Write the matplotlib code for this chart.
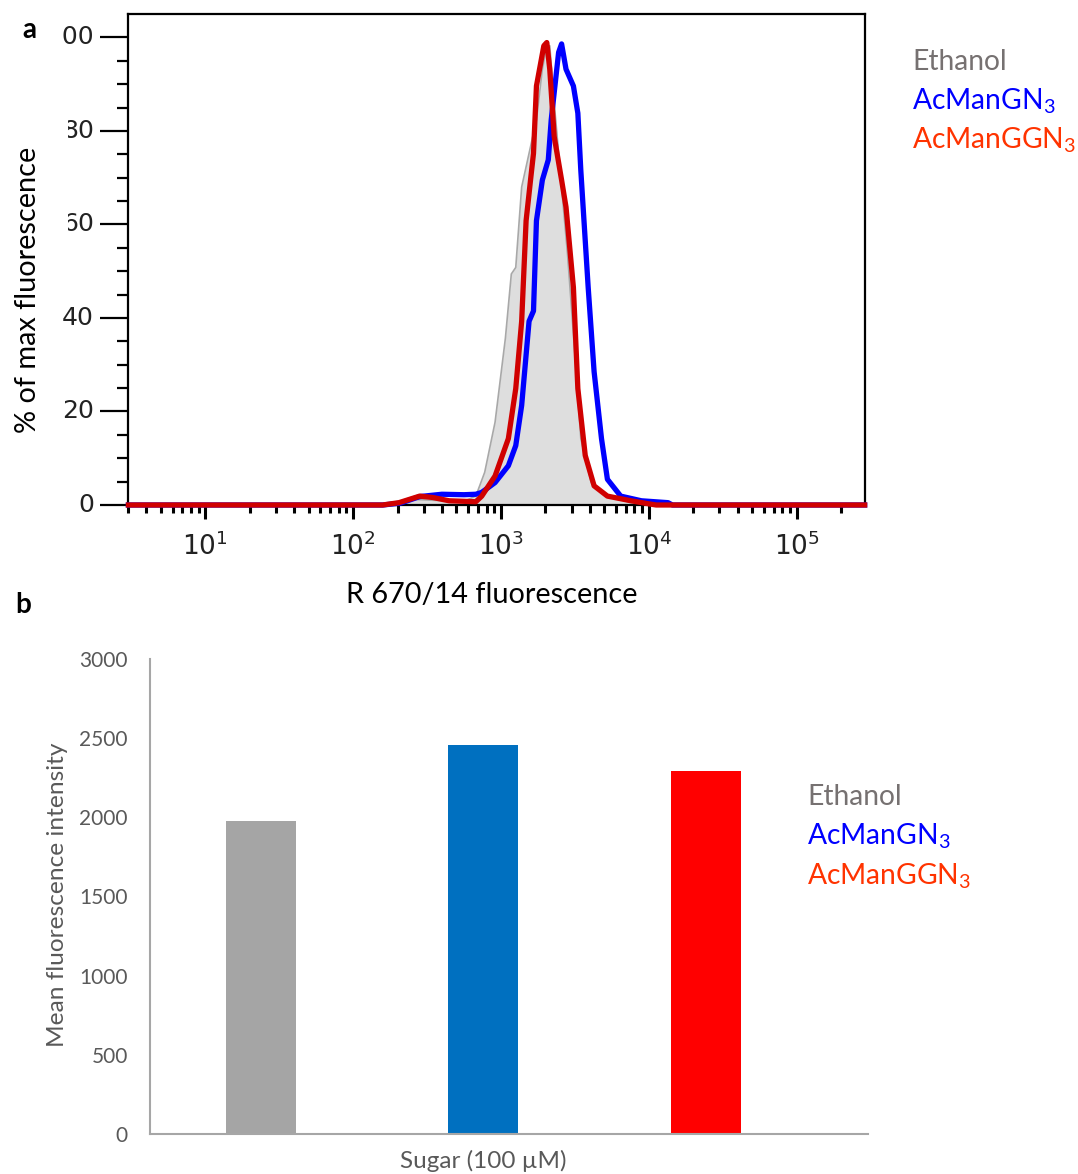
import numpy as np
import matplotlib
matplotlib.use('Agg')
import matplotlib.pyplot as plt
from matplotlib.ticker import FixedLocator, NullFormatter
from matplotlib.transforms import Bbox, TransformedBbox, blended_transform_factory

# ---- panel a: flow histograms (log10 fluorescence, % of max) ----
eth_logx = [0.48, 2.20, 2.40, 2.55, 2.75, 2.83, 2.89, 2.96, 3.03, 3.07, 3.10, 3.14, 3.19,
            3.24, 3.28, 3.31, 3.33, 3.36, 3.41, 3.45, 3.50, 3.54, 3.61, 3.72, 3.88, 4.0, 5.46]
eth_pct = [0, 0, 1.2, 1.0, 0.8, 1.9, 7.0, 17.7, 35.7, 49.4, 50.8, 68.0, 75.2,
           82.4, 93.2, 98.2, 98.2, 86.0, 68.0, 53.7, 32.2, 14.2, 4.8, 1.9, 0.5, 0, 0]

gn3_logx = [0.48, 2.20, 2.32, 2.45, 2.60, 2.75, 2.83, 2.87, 2.96, 3.05, 3.10, 3.14, 3.19,
            3.22, 3.24, 3.28, 3.32, 3.34, 3.39, 3.41, 3.44, 3.49, 3.52, 3.54, 3.59,
            3.63, 3.68, 3.72, 3.81, 3.95, 4.13, 4.16, 5.46]
gn3_pct = [0, 0, 0.4, 1.8, 2.3, 2.2, 2.3, 2.7, 4.8, 8.4, 12.7, 21.3, 39.3,
           41.5, 60.8, 69.5, 73.8, 82.4, 96.8, 98.6, 93.2, 89.6, 83.8, 71.6, 46.5,
           28.5, 14.2, 5.5, 1.9, 0.9, 0.5, 0, 0]

ggn3_logx = [0.48, 2.20, 2.31, 2.45, 2.54, 2.65, 2.83, 2.87, 2.96, 3.05, 3.10, 3.14, 3.17,
             3.20, 3.22, 3.24, 3.29, 3.31, 3.33, 3.36, 3.41, 3.44, 3.49, 3.52, 3.57,
             3.63, 3.72, 3.88, 3.99, 4.05, 5.46]
ggn3_pct = [0, 0, 0.5, 1.9, 1.6, 0.9, 0.7, 1.9, 6.2, 14.2, 24.9, 39.3, 60.8,
            69.5, 75.2, 89.6, 98.2, 98.9, 93.2, 78.8, 69.5, 63.7, 46.5, 24.9, 10.6,
            4.1, 1.9, 0.9, 0.3, 0, 0]

legend_names = ['Ethanol', r'AcManGN$_\mathrm{3}$', r'AcManGGN$_\mathrm{3}$']
legend_colors = ['#767171', '#0000FF', '#FF3300']

# ---- panel b: mean fluorescence intensity ----
bar_names = ['Ethanol', 'AcManGN3', 'AcManGGN3']
bar_values = [1977, 2457, 2293]
bar_colors = ['#A5A5A5', '#0070C0', '#FF0000']

yticks_a = [0, 20, 40, 60, 80, 100]
yticks_b = [0, 500, 1000, 1500, 2000, 2500, 3000]

plt.rcParams['font.family'] = ['Lato', 'DejaVu Sans']
plt.rcParams['mathtext.fontset'] = 'custom'
plt.rcParams['mathtext.rm'] = 'Lato'
plt.rcParams['mathtext.it'] = 'Lato:italic'
plt.rcParams['mathtext.bf'] = 'Lato:bold'
plt.rcParams['mathtext.sf'] = 'DejaVu Sans'

W, H = 1078, 1174
fig = plt.figure(figsize=(W / 100, H / 100), dpi=100)

# ============ panel a ============
ax = fig.add_axes([128 / W, 1 - 505 / H, 737 / W, 491 / H])
ax.set_xscale('log')
ax.set_xlim(3, 2.9e5)
ax.set_ylim(0, 105)

ax.fill_between(10 ** np.array(eth_logx), eth_pct, color='#DEDEDE', lw=0, zorder=1)
ax.plot(10 ** np.array(eth_logx), eth_pct, color='#A8A8A8', lw=1.2, zorder=2)
ax.plot(10 ** np.array(gn3_logx), gn3_pct, color='#0000FF', lw=3.8, zorder=3,
        clip_on=False, solid_joinstyle='round')
ax.plot(10 ** np.array(ggn3_logx), ggn3_pct, color='#D00000', lw=3.8, zorder=4,
        clip_on=False, solid_joinstyle='round')

for s in ax.spines.values():
    s.set_linewidth(1.6)
    s.set_color('black')

majors = [1e1, 1e2, 1e3, 1e4, 1e5]
minors = [m * 10 ** d for d in range(0, 6) for m in range(2, 10)]
minors = [v for v in minors if 3 <= v <= 2.9e5]
ax.xaxis.set_major_locator(FixedLocator(majors))
ax.xaxis.set_minor_locator(FixedLocator(minors))
ax.xaxis.set_minor_formatter(NullFormatter())
ax.set_xticklabels([r'$\mathsf{10^{%d}}$' % d for d in range(1, 6)])
ax.tick_params(axis='x', which='major', length=10, width=2.2, labelsize=19,
               labelcolor='#222222', pad=9)
ax.tick_params(axis='x', which='minor', length=6, width=2.2)

ax.set_yticks(yticks_a)
ax.set_yticks(np.arange(0, 101, 5), minor=True)
ax.set_yticklabels([])
ax.tick_params(axis='y', which='major', length=20, width=1.6)
ax.tick_params(axis='y', which='minor', length=8, width=1.6)

# y tick labels of panel a are cut on the left in the original figure
tr = blended_transform_factory(fig.transFigure, ax.transData)
clip_left = {100: 61, 80: 68, 60: 68, 40: 0, 20: 0, 0: 0}
for v in yticks_a:
    t = fig.text(94 / W, v, str(v), transform=tr, ha='right', va='center',
                 fontsize=18, color='#222222', family='DejaVu Sans')
    if clip_left[v]:
        t.set_clip_on(True)
        t.set_clip_box(TransformedBbox(Bbox([[clip_left[v] / W, 0], [1, 1]]),
                                       fig.transFigure))

ax.set_xlabel('R 670/14 fluorescence', fontsize=20.8, color='black')
ax.xaxis.label.set_va('center')
ax.xaxis.set_label_coords((492 - 128) / 737, -(595 - 505) / 491)
ax.set_ylabel('% of max fluorescence', fontsize=20.8, color='black')
ax.yaxis.label.set_va('center')
ax.yaxis.set_label_coords((28 - 128) / 737, (505 - 290) / 491)

for i, (name, col) in enumerate(zip(legend_names, legend_colors)):
    fig.text(912 / W, 1 - (62 + 39 * i) / H, name, color=col, fontsize=20.3,
             va='center', ha='left')

fig.text(22 / W, 1 - 30 / H, 'a', fontsize=20, fontweight='bold', va='center')
fig.text(15 / W, 1 - 605 / H, 'b', fontsize=20, fontweight='bold', va='center')

# ============ panel b ============
bx = fig.add_axes([150 / W, 1 - 1134 / H, 718 / W, 475 / H])
pos = np.arange(len(bar_values))
bx.bar(pos, bar_values, width=0.315, color=bar_colors)
bx.set_xlim(-0.5, 2.73)
bx.set_ylim(0, 3000)
bx.set_yticks(yticks_b)
bx.set_xticks([])
bx.tick_params(axis='y', length=0, pad=16, labelsize=15, labelcolor='#595959')
for k in ['top', 'right']:
    bx.spines[k].set_visible(False)
for k in ['left', 'bottom']:
    bx.spines[k].set_color('#A6A6A6')
    bx.spines[k].set_linewidth(1.5)

bx.set_xlabel('Sugar (100 \u00b5M)', fontsize=17.5, color='#595959')
bx.xaxis.label.set_va('center')
bx.xaxis.set_label_coords((483 - 150) / 718, -(1161 - 1134) / 475)
bx.set_ylabel('Mean fluorescence intensity', fontsize=17.6, color='#595959')
bx.yaxis.label.set_va('center')
bx.yaxis.set_label_coords((57 - 150) / 718, (1134 - 895) / 475)

for i, (name, col) in enumerate(zip(legend_names, legend_colors)):
    fig.text(807 / W, 1 - (797 + 39.5 * i) / H, name, color=col, fontsize=20.3,
             va='center', ha='left')

fig.savefig('out.png', dpi=100)
